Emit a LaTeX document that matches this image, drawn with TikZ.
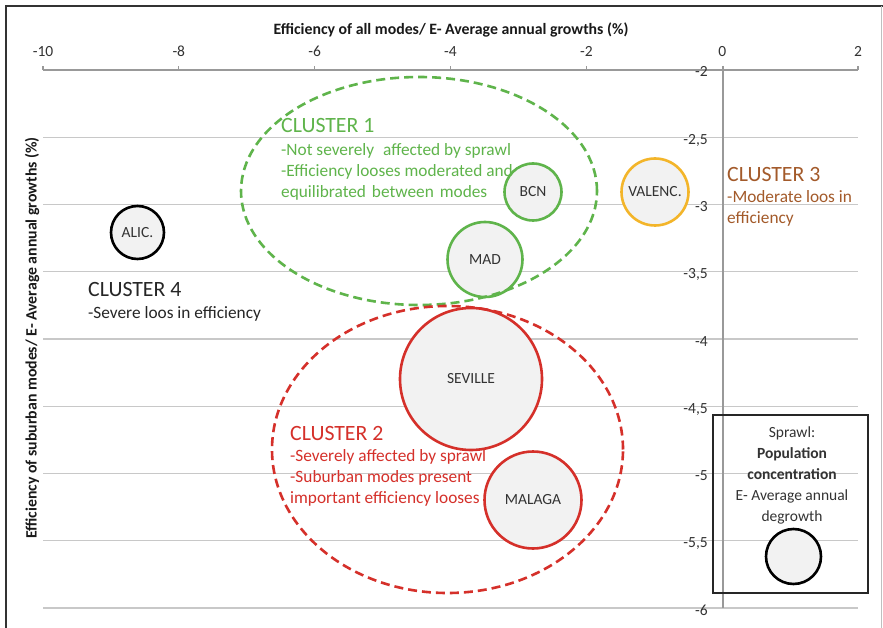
\documentclass[tikz,border=0pt]{standalone}
\usepackage{fontspec}
\setmainfont{Carlito}
\usetikzlibrary{shapes.geometric}
\definecolor{cgreen}{HTML}{5FB44B}
\definecolor{cred}{HTML}{D5302A}
\definecolor{corange}{HTML}{F3B52A}
\definecolor{cbrown}{HTML}{A35A2A}
\definecolor{cfill}{HTML}{F2F2F2}
\definecolor{cgrid}{HTML}{C8C8C8}
\definecolor{ctxt}{HTML}{333333}
\begin{document}
\begin{tikzpicture}[x=1pt,y=-1pt,
  gridline/.style={draw=cgrid, line width=1.1pt},
  axisline/.style={draw=black!40, line width=1.1pt},
  ticklab/.style={inner sep=0, font=\fontsize{15.5pt}{18pt}\selectfont, text=ctxt},
  bubble/.style={circle, draw, fill=cfill, line width=2.6pt, inner sep=0,
     font=\fontsize{15.5pt}{18pt}\selectfont, text=ctxt},
  clusterell/.style={ellipse, draw, line width=2.6pt, dash pattern=on 9pt off 5pt, inner sep=0},
  headtxt/.style={anchor=base west, inner sep=0, font=\fontsize{21.8pt}{26pt}\selectfont},
  bodytxt/.style={anchor=base west, inner sep=0, font=\fontsize{17.3pt}{21pt}\selectfont},
  legtxt/.style={anchor=base, inner sep=0, font=\fontsize{15.5pt}{21pt}\selectfont, text=ctxt},
  axtitle/.style={inner sep=0, font=\bfseries\fontsize{15.8pt}{18pt}\selectfont, text=black!90}
]
\useasboundingbox (0,0) rectangle (883,628);
\fill[white] (0,0) rectangle (883,628);

% outer frame
\draw[line width=1.6pt, black!80] (6,628) -- (6,6) -- (883,6);
\draw[line width=0.8pt, black!25] (881,6) -- (881,628);

% grid lines
\foreach \yy in {137.25,204.5,271.75,339,406.25,473.5,540.75,608}
  \draw[gridline] (43,\yy) -- (858,\yy);

% top axis
\draw[axisline] (43,70) -- (858,70);
\foreach \xx/\lab in {43/-10,178.8/-8,314.7/-6,450.5/-4,586.3/-2,722.2/0,858/2}{
  \draw[axisline] (\xx,70) -- (\xx,66);
  \node[ticklab, anchor=base] (tx\lab) at (\xx,57) {\lab};
}
% vertical axis
\draw[axisline] (723,66) -- (723,608);
\foreach \yy/\lab/\nm in {70/{-2}/a,137.25/{-2,5}/b,204.5/{-3}/c,271.75/{-3,5}/d,339/{-4}/e,406.25/{-4,5}/f,473.5/{-5}/g,540.75/{-5,5}/h,608/{-6}/i}
  \node[ticklab, anchor=base east] (ty\nm) at (708,\yy+7) {\lab};

% axis titles
\node[axtitle] (xtitle) at (451,30) {Efficiency of all modes/ E- Average annual growths (\%)};
\node[axtitle, rotate=90] (ytitle) at (32,338) {Efficiency of suburban modes/ E- Average annual growths (\%)};

% bubbles
\node[bubble, draw=black, minimum size=53pt] (alic) at (137.5,232.5) {ALIC.};
\node[bubble, draw=cgreen, minimum size=57pt] (bcn) at (533,192) {BCN};
\node[bubble, draw=cgreen, minimum size=75pt] (mad) at (485,259.5) {MAD};
\node[bubble, draw=corange, minimum size=67pt] (valenc) at (655,192) {VALENC.};
\node[bubble, draw=cred, minimum size=142pt] (seville) at (471,379) {SEVILLE};
\node[bubble, draw=cred, minimum size=97pt] (malaga) at (533,500) {MALAGA};

% cluster ellipses
\node[clusterell, draw=cgreen, minimum width=356pt, minimum height=228pt] (ell1) at (419,191) {};
\node[clusterell, draw=cred, minimum width=351pt, minimum height=287pt] (ell2) at (447.5,449.5) {};

% cluster 1 text
\node[headtxt, text=cgreen] (c1h) at (281,133) {CLUSTER 1};
\node[bodytxt, text=cgreen] (c1a) at (281,156) {-Not severely\hspace{5pt} affected by sprawl};
\node[bodytxt, text=cgreen] (c1b) at (281,177) {-Efficiency looses moderated and};
\node[bodytxt, text=cgreen] (c1c) at (281,198) {equilibrated\hspace{2pt} between\hspace{2pt} modes};

% cluster 2 text
\node[headtxt, text=cred] (c2h) at (290,440) {CLUSTER 2};
\node[bodytxt, text=cred] (c2a) at (290,461) {-Severely affected by sprawl};
\node[bodytxt, text=cred] (c2b) at (290,482) {-Suburban modes present};
\node[bodytxt, text=cred] (c2c) at (290,503) {important efficiency looses};

% cluster 3 text
\node[headtxt, text=cbrown] (c3h) at (727,182) {CLUSTER 3};
\node[bodytxt, text=cbrown] (c3a) at (727,203) {-Moderate loos in};
\node[bodytxt, text=cbrown] (c3b) at (727,224) {efficiency};

% cluster 4 text
\node[headtxt, text=black!85] (c4h) at (88,297) {CLUSTER 4};
\node[bodytxt, text=black!85] (c4a) at (88,318) {-Severe loos in efficiency};

% legend
\node[draw=black!85, line width=1.6pt, minimum width=155pt, minimum height=178pt, inner sep=0] (legend) at (790.5,504) {};
\node[legtxt] (l1) at (792,437) {Sprawl:};
\node[legtxt, font=\bfseries\fontsize{15.5pt}{21pt}\selectfont] (l2) at (792,458) {Population};
\node[legtxt, font=\bfseries\fontsize{15.5pt}{21pt}\selectfont] (l3) at (792,479) {concentration};
\node[legtxt] (l4) at (792,500) {E- Average annual};
\node[legtxt] (l5) at (792,521) {degrowth};
\node[bubble, draw=black, minimum size=55pt] (legcirc) at (793.5,556.5) {};
\end{tikzpicture}
\end{document}
